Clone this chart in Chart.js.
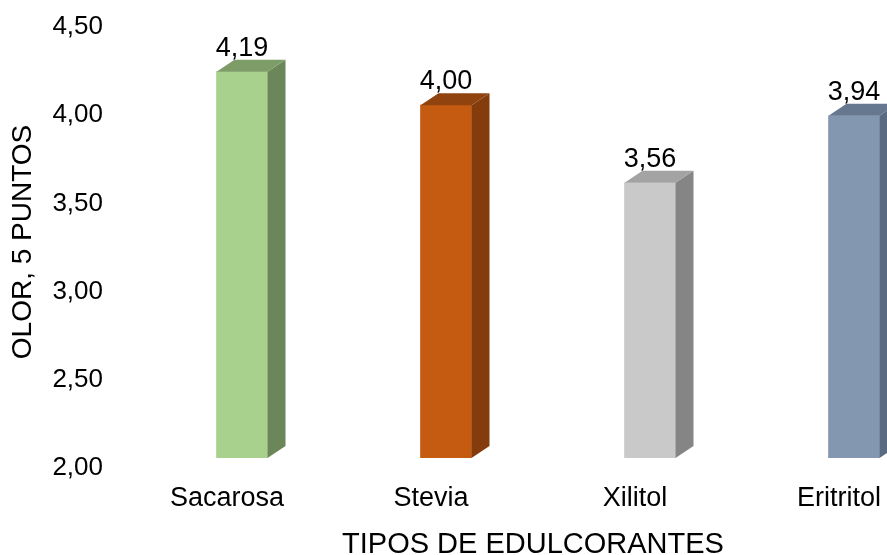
<!DOCTYPE html>
<html>
<head>
<meta charset="utf-8">
<script src="https://cdn.jsdelivr.net/npm/chart.js@4"></script>
<style>
    html, body { margin: 0; padding: 0; background: #fff; overflow: hidden; }
    #wrap { width: 887px; height: 555px; overflow: hidden; }
</style>
</head>
<body>
<div id="wrap"><canvas id="olorChart" width="1000" height="555"></canvas></div>
<script>
// Datos del gráfico
const categorias = ['Sacarosa', 'Stevia', 'Xilitol', 'Eritritol'];
const valoresOlor = [4.19, 4.00, 3.56, 3.94];
const tituloX = 'TIPOS DE EDULCORANTES';
const tituloY = 'OLOR, 5 PUNTOS';

// Colores: cara frontal, lateral y superior de cada barra
const coloresFrente = ['#a9d18e', '#c55a11', '#c9c9c9', '#8497b0'];
const coloresLado = ['#6b8759', '#843c0c', '#858585', '#5a6a80'];
const coloresTapa = ['#7d9c68', '#91430f', '#a3a3a3', '#66788f'];

const PROF_X = 18;
const PROF_Y = 12;
const FUENTE = '"Liberation Sans", Arial, sans-serif';

// Formato con coma decimal
function formatoComa(valor) {
    return Number(valor).toFixed(2).replace('.', ',');
}

// Plugin para dar volumen a las barras y escribir los valores
const barras3D = {
    id: 'barras3D',
    afterDatasetsDraw(chart) {
        const ctx = chart.ctx;
        const meta = chart.getDatasetMeta(0);
        const piso = chart.scales.y.getPixelForValue(chart.scales.y.min);
        meta.data.forEach((bar, i) => {
            const { x, y, width } = bar.getProps(['x', 'y', 'width'], true);
            const izq = x - width / 2;
            const der = x + width / 2;

            ctx.save();
            // Cara lateral
            ctx.fillStyle = coloresLado[i];
            ctx.beginPath();
            ctx.moveTo(der, y);
            ctx.lineTo(der + PROF_X, y - PROF_Y);
            ctx.lineTo(der + PROF_X, piso - PROF_Y);
            ctx.lineTo(der, piso);
            ctx.closePath();
            ctx.fill();

            // Cara superior
            ctx.fillStyle = coloresTapa[i];
            ctx.beginPath();
            ctx.moveTo(izq, y);
            ctx.lineTo(izq + PROF_X, y - PROF_Y);
            ctx.lineTo(der + PROF_X, y - PROF_Y);
            ctx.lineTo(der, y);
            ctx.closePath();
            ctx.fill();

            // Etiqueta de valor
            ctx.fillStyle = '#000';
            ctx.font = '27px ' + FUENTE;
            ctx.textAlign = 'center';
            ctx.textBaseline = 'alphabetic';
            ctx.fillText(formatoComa(valoresOlor[i]), x, y - PROF_Y - 4);
            ctx.restore();
        });
    },
    // Títulos de los ejes
    afterDraw(chart) {
        const ctx = chart.ctx;
        ctx.save();
        ctx.fillStyle = '#000';
        ctx.textAlign = 'center';

        ctx.font = '29px ' + FUENTE;
        ctx.textBaseline = 'alphabetic';
        ctx.fillText(tituloX, 533, 553);

        ctx.font = '28px ' + FUENTE;
        ctx.textBaseline = 'middle';
        ctx.translate(23, 242);
        ctx.rotate(-Math.PI / 2);
        ctx.fillText(tituloY, 0, 0);
        ctx.restore();
    }
};

const ctx = document.getElementById('olorChart');

new Chart(ctx, {
    type: 'bar',
    data: {
        labels: categorias,
        datasets: [{
            label: 'Olor',
            data: valoresOlor,
            backgroundColor: coloresFrente,
            borderWidth: 0,
            barThickness: 51
        }]
    },
    options: {
        responsive: false,
        animation: false,
        devicePixelRatio: 1,
        layout: {
            padding: { top: 17, right: 44, bottom: 0, left: 0 }
        },
        plugins: {
            legend: { display: false },
            tooltip: { enabled: false }
        },
        scales: {
            x: {
                grid: { display: false, drawTicks: false },
                border: { display: false },
                ticks: {
                    color: '#000',
                    font: { family: FUENTE, size: 27 },
                    padding: 24,
                    labelOffset: -15
                },
                afterFit(scale) {
                    scale.height = 97;
                    scale.paddingLeft = 0;
                    scale.paddingRight = 0;
                }
            },
            y: {
                min: 2,
                max: 4.5,
                grid: { display: false, drawTicks: false },
                border: { display: false },
                ticks: {
                    stepSize: 0.5,
                    color: '#000',
                    font: { family: FUENTE, size: 26 },
                    padding: 37,
                    labelOffset: 10,
                    callback: function(value) {
                        return formatoComa(value);
                    }
                },
                afterFit(scale) {
                    scale.width = 140;
                    scale.paddingTop = 0;
                    scale.paddingBottom = 0;
                }
            }
        }
    },
    plugins: [barras3D]
});
</script>
</body>
</html>
